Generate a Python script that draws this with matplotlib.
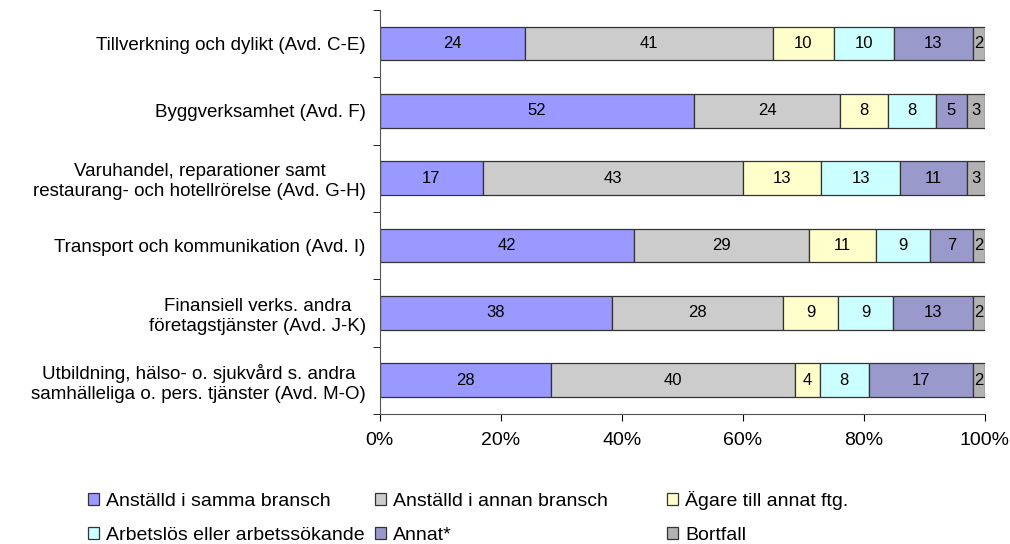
import matplotlib
matplotlib.use('Agg')
import matplotlib.pyplot as plt
import numpy as np

categories = [
    'Tillverkning och dylikt (Avd. C-E)',
    'Byggverksamhet (Avd. F)',
    'Varuhandel, reparationer samt\nrestaurang- och hotellrörelse (Avd. G-H)',
    'Transport och kommunikation (Avd. I)',
    'Finansiell verks. andra\nföretagstjänster (Avd. J-K)',
    'Utbildning, hälso- o. sjukvård s. andra\nsamhälleliga o. pers. tjänster (Avd. M-O)',
]
series_names = [
    'Anställd i samma bransch',
    'Anställd i annan bransch',
    'Ägare till annat ftg.',
    'Arbetslös eller arbetssökande',
    'Annat*',
    'Bortfall',
]
samma = [24, 52, 17, 42, 38, 28]
annan = [41, 24, 43, 29, 28, 40]
agare = [10, 8, 13, 11, 9, 4]
arbetslos = [10, 8, 13, 9, 9, 8]
annat = [13, 5, 11, 7, 13, 17]
bortfall = [2, 3, 3, 2, 2, 2]

colors = ['#9999FF', '#CCCCCC', '#FFFFCC', '#CCFFFF', '#9999CC', '#B2B2B2']

plt.rcParams['font.family'] = ['Liberation Sans', 'DejaVu Sans']

data = np.array([samma, annan, agare, arbetslos, annat, bortfall], dtype=float)
pct = data / data.sum(axis=0) * 100

fig = plt.figure(figsize=(10.1, 5.44), dpi=100)
ax = fig.add_axes([0.376, 0.239, 0.599, 0.743])

y = np.arange(len(categories))
left = np.zeros(len(categories))
handles = []
for i, name in enumerate(series_names):
    bars = ax.barh(y, pct[i], left=left, height=0.5, color=colors[i],
                   edgecolor='#333333', linewidth=0.9, label=name)
    handles.append(bars)
    for j in range(len(categories)):
        ax.text(left[j] + pct[i][j] / 2, y[j], '%d' % data[i][j],
                ha='center', va='center', fontsize=12)
    left += pct[i]

ax.set_xlim(0, 100)
ax.set_ylim(len(categories) - 0.5, -0.5)
ax.set_yticks(y)
ax.set_yticklabels(categories, fontsize=13.5, ha='right', multialignment='center')
ax.tick_params(axis='y', length=0, pad=10)
ax.set_yticks(np.arange(-0.5, len(categories)), minor=True)
ax.tick_params(axis='y', which='minor', length=5, direction='out')
ax.set_xticks([0, 20, 40, 60, 80, 100])
ax.set_xticklabels(['0%', '20%', '40%', '60%', '80%', '100%'], fontsize=14)
ax.tick_params(axis='x', length=5, direction='out', pad=8)
for s in ['top', 'right']:
    ax.spines[s].set_visible(False)
ax.spines['left'].set_color('#555555')
ax.spines['bottom'].set_color('#555555')

# legend: 3 columns x 2 rows, one entry per legend so the rows line up
col_x = [88 / 1010, 375 / 1010, 667 / 1010]
row_y = [0.0625, 0.0]
for k, name in enumerate(series_names):
    fig.legend([handles[k]], [name],
               loc='lower left', bbox_to_anchor=(col_x[k % 3], row_y[k // 3]),
               frameon=False, fontsize=14, handlelength=0.57, handleheight=0.57,
               handletextpad=0.36, borderpad=0, borderaxespad=0)

fig.savefig('out.png', dpi=100)
